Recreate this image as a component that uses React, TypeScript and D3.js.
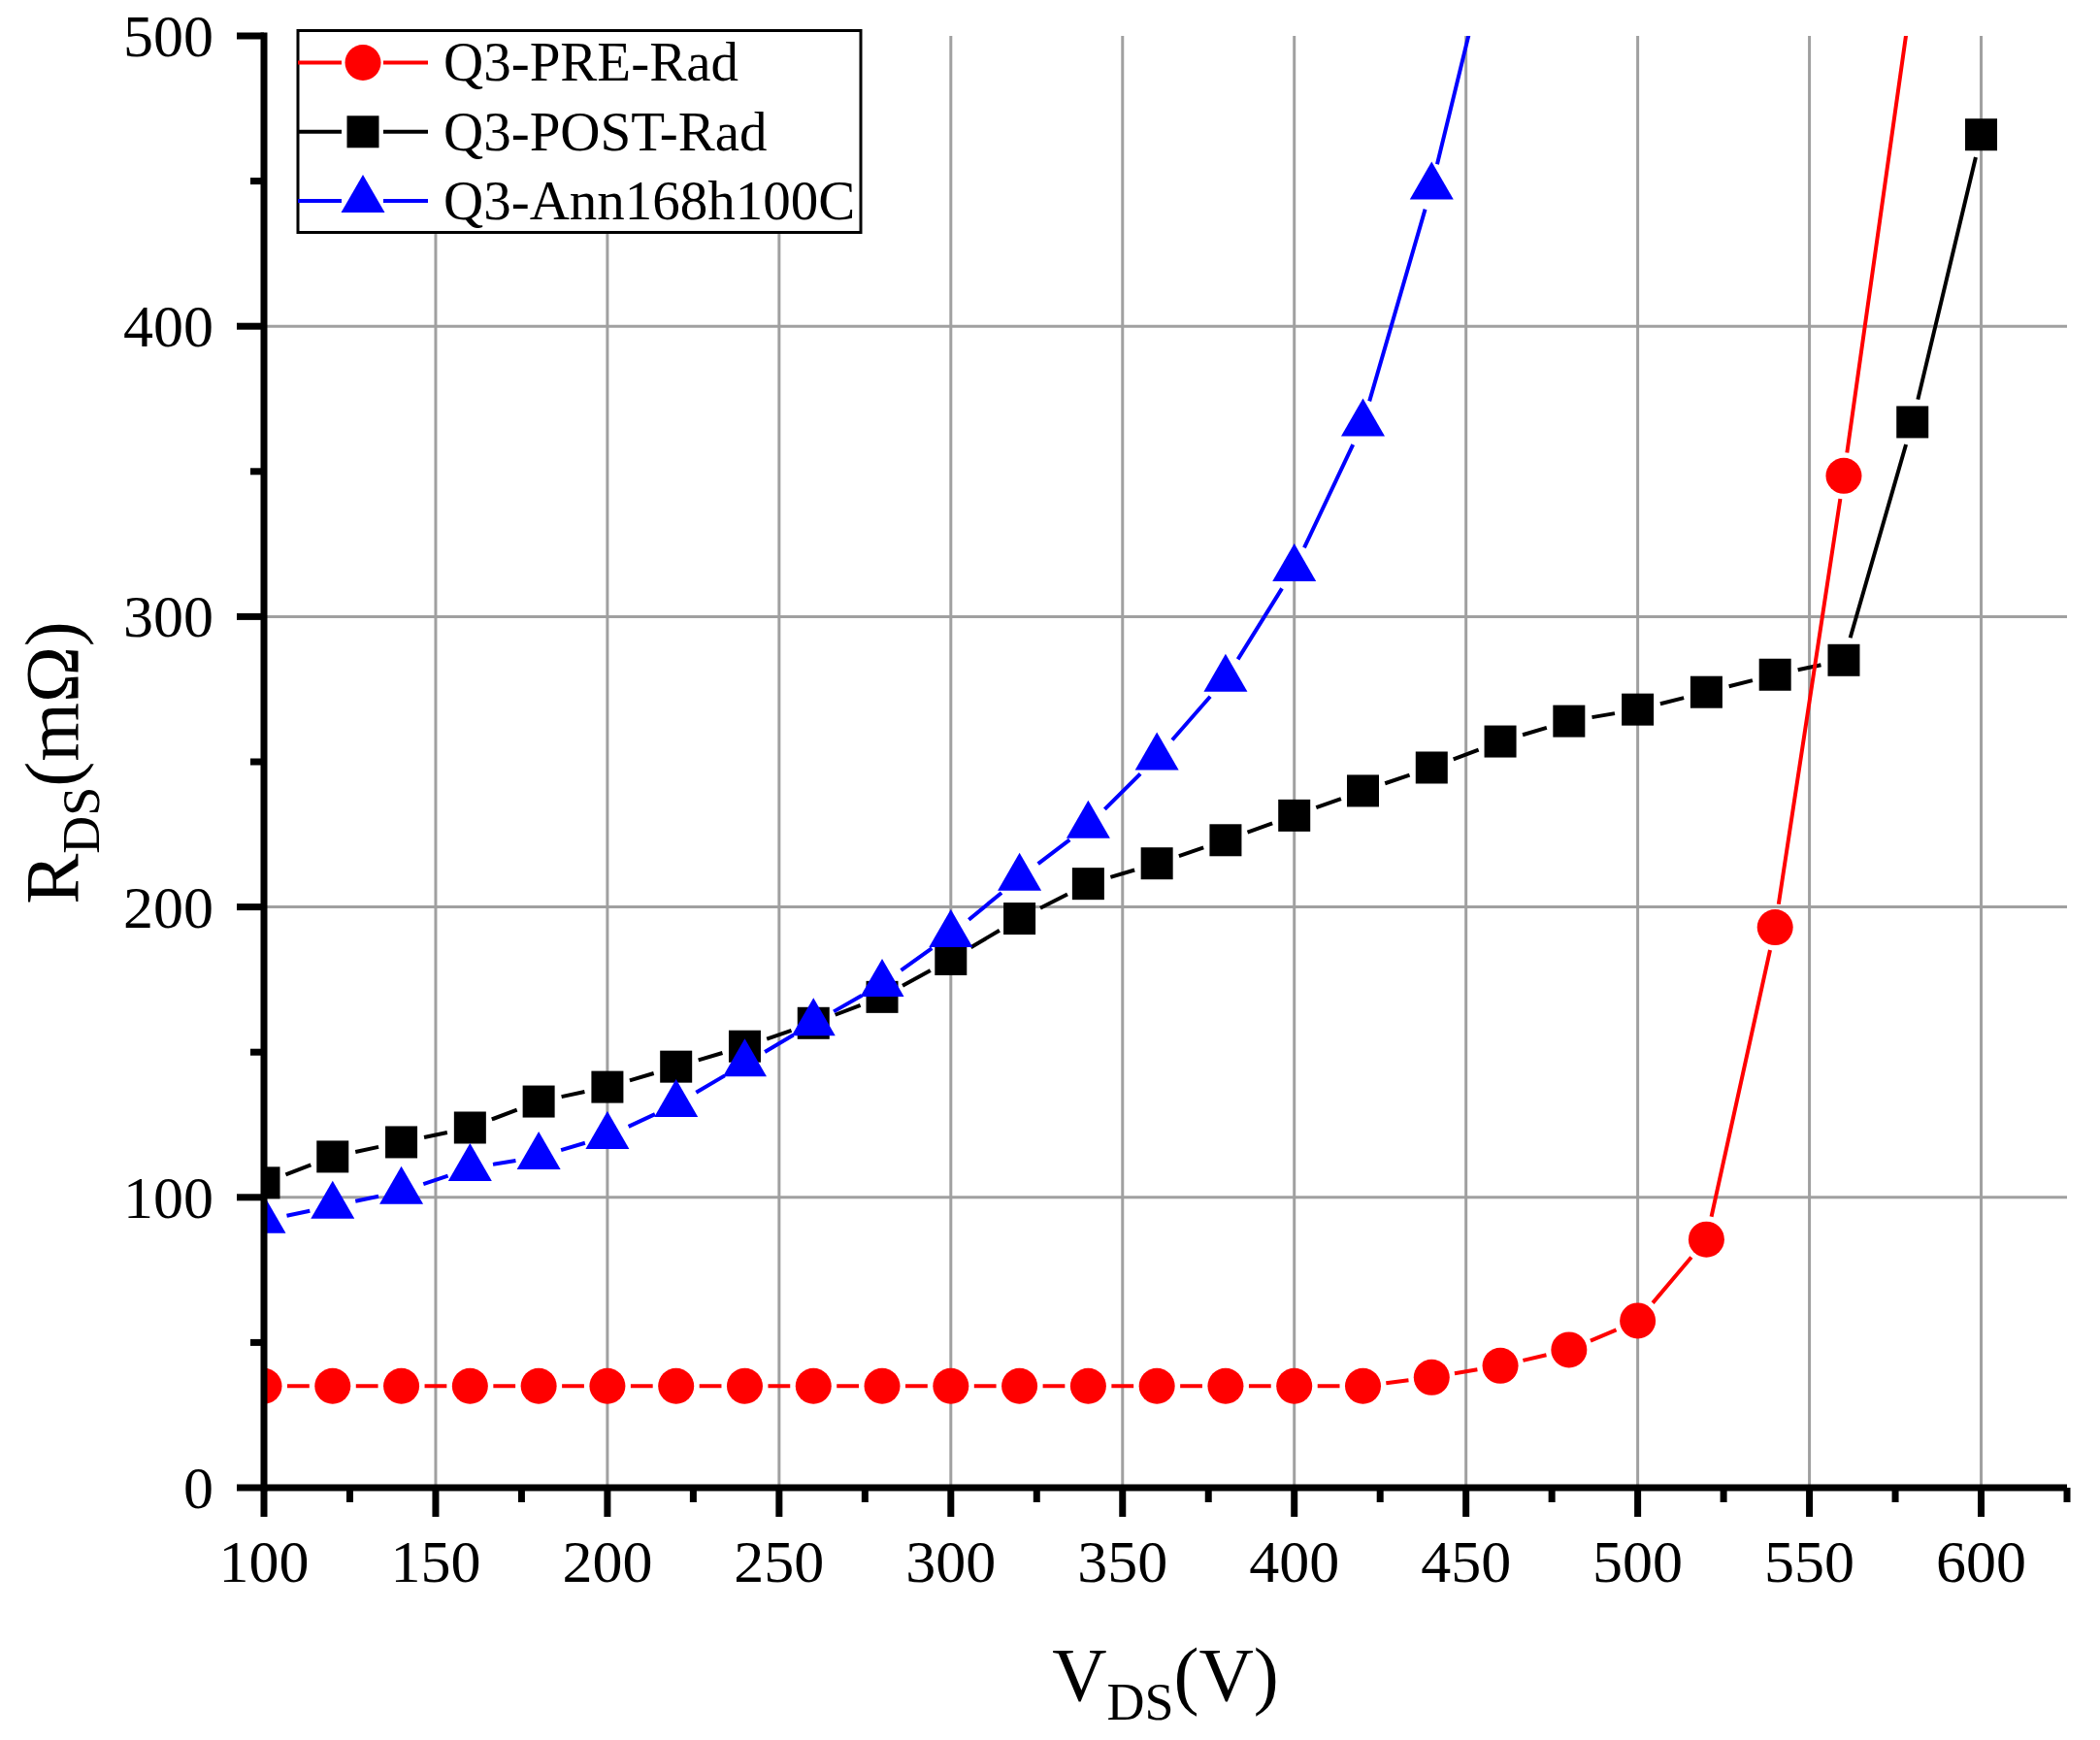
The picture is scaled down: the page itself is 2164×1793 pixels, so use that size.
import * as d3 from 'd3'

// V_DS (V) sample points per series
const vdsPre = [100, 120, 140, 160, 180, 200, 220, 240, 260, 280, 300, 320, 340, 360, 380, 400, 420, 440, 460, 480, 500, 520, 540, 560, 580]
const rdsPre = [35, 35, 35, 35, 35, 35, 35, 35, 35, 35, 35, 35, 35, 35, 35, 35, 35, 38, 42, 47.5, 57.5, 85.5, 193, 348.5, 516]

const vdsPost = [100, 120, 140, 160, 180, 200, 220, 240, 260, 280, 300, 320, 340, 360, 380, 400, 420, 440, 460, 480, 500, 520, 540, 560, 580, 600]
const rdsPost = [105, 114, 119, 124, 133, 138, 145, 152, 160, 169, 182, 196, 208, 215, 223, 231.5, 240, 248, 257, 264, 268, 274, 280, 285, 367, 466]

const vdsAnn = [100, 120, 140, 160, 180, 200, 220, 240, 260, 280, 300, 320, 340, 360, 380, 400, 420, 440, 460]
const rdsAnn = [92, 97, 102, 110, 114, 121, 132, 146, 160, 173.5, 190.5, 210, 228, 251.5, 278.5, 316.5, 366.5, 448, 545]

const seriesNames = ['Q3-PRE-Rad', 'Q3-POST-Rad', 'Q3-Ann168h100C']

const xMajorTicks = [100, 150, 200, 250, 300, 350, 400, 450, 500, 550, 600]
const xMinorTicks = [125, 175, 225, 275, 325, 375, 425, 475, 525, 575, 625]
const yMajorTicks = [0, 100, 200, 300, 400, 500]
const yMinorTicks = [50, 150, 250, 350, 450]

const W = 2164
const H = 1793
const left = 272
const right = 2130
const top = 37
const bottom = 1533
const FONT = "'Liberation Serif', 'Times New Roman', Times, serif"
const GRID = '#a0a0a0'
const GAP = 24
const LINE_W = 4

const x = d3.scaleLinear().domain([100, 625]).range([left, right])
const y = d3.scaleLinear().domain([0, 500]).range([bottom, top])

type Shape = 'circle' | 'square' | 'triangle'

// Origin-style lines: each segment stops short of the symbols
function gappedPath(xs: number[], ys: number[], gap: number) {
  const p = d3.path()
  for (let i = 0; i < xs.length - 1; i++) {
    const x1 = x(xs[i]), y1 = y(ys[i])
    const x2 = x(xs[i + 1]), y2 = y(ys[i + 1])
    const len = Math.hypot(x2 - x1, y2 - y1)
    if (len <= 2 * gap) continue
    const ux = (x2 - x1) / len, uy = (y2 - y1) / len
    p.moveTo(x1 + ux * gap, y1 + uy * gap)
    p.lineTo(x2 - ux * gap, y2 - uy * gap)
  }
  return p.toString()
}

function Marker({ shape, cx, cy, color }: { shape: Shape; cx: number; cy: number; color: string }) {
  if (shape === 'circle') return <circle cx={cx} cy={cy} r={18.5} fill={color} />
  if (shape === 'square') return <rect x={cx - 16.5} y={cy - 16.5} width={33} height={33} fill={color} />
  return <polygon points={`${cx},${cy - 26} ${cx + 22.5},${cy + 13} ${cx - 22.5},${cy + 13}`} fill={color} />
}

const series = [
  { name: seriesNames[1], xs: vdsPost, ys: rdsPost, color: '#000000', shape: 'square' as Shape },
  { name: seriesNames[0], xs: vdsPre, ys: rdsPre, color: '#ff0000', shape: 'circle' as Shape },
  { name: seriesNames[2], xs: vdsAnn, ys: rdsAnn, color: '#0000ff', shape: 'triangle' as Shape },
]

const legendItems = [
  { name: seriesNames[0], color: '#ff0000', shape: 'circle' as Shape },
  { name: seriesNames[1], color: '#000000', shape: 'square' as Shape },
  { name: seriesNames[2], color: '#0000ff', shape: 'triangle' as Shape },
]

export default function App() {
  const legX = 307
  const legY = 31.5
  const rowStep = 71.3
  const firstRow = 64.5
  return (
    <svg
      width={W}
      height={H}
      viewBox={`0 0 ${W} ${H}`}
      style={{ position: 'absolute', left: 0, top: 0, background: '#fff' }}
      fontFamily={FONT}
    >
      <defs>
        <clipPath id="plot-clip">
          <rect x={left} y={top} width={right - left} height={bottom - top} />
        </clipPath>
      </defs>
      <rect x={0} y={0} width={W} height={H} fill="#fff" />

      {/* grid */}
      {xMajorTicks.filter(v => v !== 100).map(v => (
        <line key={`gx${v}`} x1={x(v)} x2={x(v)} y1={top} y2={bottom} stroke={GRID} strokeWidth={3} />
      ))}
      {yMajorTicks.filter(v => v !== 0 && v !== 500).map(v => (
        <line key={`gy${v}`} x1={left} x2={right} y1={y(v)} y2={y(v)} stroke={GRID} strokeWidth={3} />
      ))}

      {/* data */}
      <g clipPath="url(#plot-clip)">
        {series.map(s => (
          <g key={s.name}>
            <path d={gappedPath(s.xs, s.ys, GAP)} fill="none" stroke={s.color} strokeWidth={LINE_W} />
            {s.xs.map((v, i) => (
              <Marker key={i} shape={s.shape} cx={x(v)} cy={y(s.ys[i])} color={s.color} />
            ))}
          </g>
        ))}
      </g>

      {/* axes */}
      <g stroke="#000" strokeWidth={7}>
        <line x1={left} x2={left} y1={top - 3.5} y2={bottom + 3.5} />
        <line x1={left} x2={right} y1={bottom} y2={bottom} />
        {yMajorTicks.map(v => (
          <line key={`ym${v}`} x1={left - 28} x2={left} y1={y(v)} y2={y(v)} />
        ))}
        {yMinorTicks.map(v => (
          <line key={`yn${v}`} x1={left - 14} x2={left} y1={y(v)} y2={y(v)} />
        ))}
        {xMajorTicks.map(v => (
          <line key={`xm${v}`} x1={x(v)} x2={x(v)} y1={bottom} y2={bottom + 30} />
        ))}
        {xMinorTicks.map(v => (
          <line key={`xn${v}`} x1={x(v)} x2={x(v)} y1={bottom} y2={bottom + 15} />
        ))}
      </g>

      {/* tick labels */}
      {yMajorTicks.map(v => (
        <text key={`yl${v}`} x={220} y={y(v)} dy="0.34em" textAnchor="end" fontSize={62} fill="#000">
          {v}
        </text>
      ))}
      {xMajorTicks.map(v => (
        <text key={`xl${v}`} x={x(v)} y={1630} textAnchor="middle" fontSize={62} fill="#000">
          {v}
        </text>
      ))}

      {/* axis titles */}
      <text x={(left + right) / 2} y={1752} textAnchor="middle" fontSize={78} fill="#000">
        <tspan>V</tspan>
        <tspan fontSize={54} dy={20}>DS</tspan>
        <tspan dy={-20}>(V)</tspan>
      </text>
      <text transform="translate(80,786) rotate(-90)" textAnchor="middle" fontSize={78} fill="#000">
        <tspan>R</tspan>
        <tspan fontSize={54} dy={22}>DS</tspan>
        <tspan dy={-22}>(mΩ)</tspan>
      </text>

      {/* legend */}
      <rect x={legX} y={legY} width={580} height={208} fill="#fff" stroke="#000" strokeWidth={3} />
      {legendItems.map((d, i) => {
        const ry = firstRow + i * rowStep
        return (
          <g key={d.name}>
            <line x1={legX} x2={352} y1={ry} y2={ry} stroke={d.color} strokeWidth={LINE_W} />
            <line x1={395} x2={441} y1={ry} y2={ry} stroke={d.color} strokeWidth={LINE_W} />
            <Marker shape={d.shape} cx={374} cy={d.shape === 'triangle' ? ry - 1 : ry} color={d.color} />
            <text x={457} y={ry + 18.8} fontSize={57} fill="#000">{d.name}</text>
          </g>
        )
      })}
    </svg>
  )
}
